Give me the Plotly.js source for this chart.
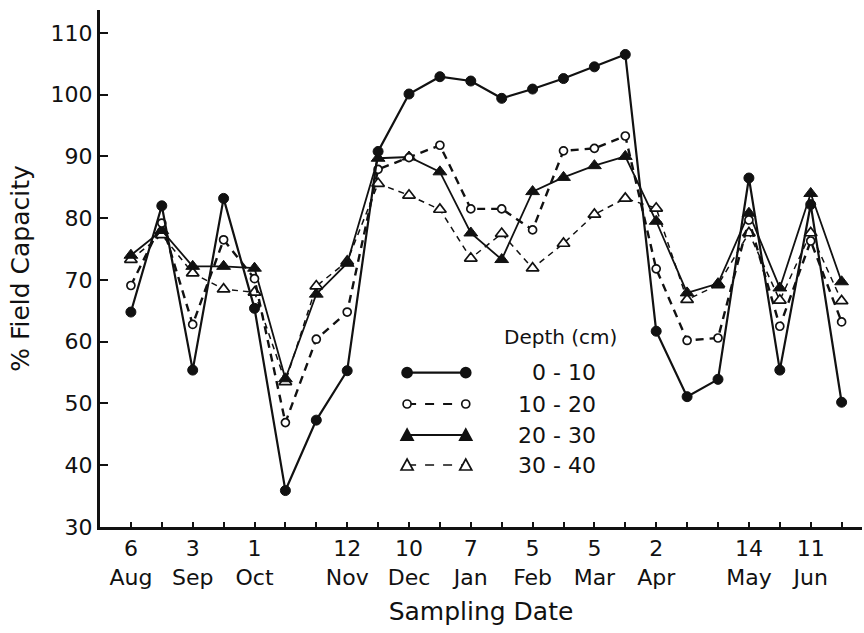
<!DOCTYPE html>
<html>
<head>
<meta charset="utf-8">
<script src="https://cdn.plot.ly/plotly-3.0.1.min.js"></script>
<style>
  html, body { margin: 0; padding: 0; background: #ffffff; }
  #chart { width: 864px; height: 633px; }
</style>
</head>
<body>
<div id="chart"></div>
<script>
// Fortnightly sampling index (6 Aug ... 25 Jun)
var sampleIndex = [0, 1, 2, 3, 4, 5, 6, 7, 8, 9, 10, 11, 12, 13, 14, 15, 16, 17, 18, 19, 20, 21, 22, 23];

// % Field Capacity for each depth layer
var depth0_10  = [64.8, 82.0, 55.4, 83.2, 65.4, 35.9, 47.3, 55.3, 90.8, 100.1, 102.9, 102.2, 99.4, 100.9, 102.6, 104.5, 106.5, 61.7, 51.1, 53.9, 86.5, 55.4, 82.2, 50.2];
var depth10_20 = [69.1, 79.2, 62.8, 76.5, 70.2, 46.9, 60.4, 64.8, 87.9, 89.8, 91.8, 81.5, 81.5, 78.1, 90.9, 91.3, 93.3, 71.8, 60.2, 60.6, 79.7, 62.5, 76.3, 63.2];
var depth20_30 = [74.0, 78.0, 72.2, 72.2, 71.9, 54.0, 67.7, 72.7, 89.7, 89.9, 87.5, 77.6, 73.3, 84.3, 86.6, 88.5, 90.0, 79.5, 67.9, 69.4, 80.8, 68.7, 84.0, 69.7];
var depth30_40 = [73.3, 77.3, 71.1, 68.5, 68.0, 53.5, 69.0, 73.0, 85.6, 83.7, 81.4, 73.5, 77.5, 71.9, 75.9, 80.6, 83.2, 81.6, 66.8, 69.2, 77.6, 66.7, 77.6, 66.6];

var seriesNames = ['0 - 10', '10 - 20', '20 - 30', '30 - 40'];

// Tick labels: day and month for the labelled sampling dates
var labelIdx   = [0, 2, 4, 7, 9, 11, 13, 15, 17, 20, 22];
var dayLabels  = ['6', '3', '1', '12', '10', '7', '5', '5', '2', '14', '11'];
var monthLabels = ['Aug', 'Sep', 'Oct', 'Nov', 'Dec', 'Jan', 'Feb', 'Mar', 'Apr', 'May', 'Jun'];

var yTicks = [30, 40, 50, 60, 70, 80, 90, 100, 110];

var tickText = sampleIndex.map(function (i) {
  var k = labelIdx.indexOf(i);
  return k >= 0 ? dayLabels[k] + '<br>' + monthLabels[k] : '';
});

var FONT = 'DejaVu Sans, Liberation Sans, sans-serif';

var traces = [
  {
    x: sampleIndex, y: depth30_40, name: seriesNames[3], mode: 'lines+markers',
    line: { color: '#111', width: 1.5, dash: '6px,5px' },
    marker: { symbol: 'triangle-up', size: 11, color: '#fff', line: { color: '#111', width: 1.7 } }
  },
  {
    x: sampleIndex, y: depth20_30, name: seriesNames[2], mode: 'lines+markers',
    line: { color: '#111', width: 1.8 },
    marker: { symbol: 'triangle-up', size: 12, color: '#111', line: { color: '#111', width: 1 } }
  },
  {
    x: sampleIndex, y: depth10_20, name: seriesNames[1], mode: 'lines+markers',
    line: { color: '#111', width: 2.4, dash: '8px,6px' },
    marker: { symbol: 'circle', size: 8, color: '#fff', line: { color: '#111', width: 1.7 } }
  },
  {
    x: sampleIndex, y: depth0_10, name: seriesNames[0], mode: 'lines+markers',
    line: { color: '#111', width: 2.2 },
    marker: { symbol: 'circle', size: 10, color: '#111', line: { color: '#111', width: 1 } }
  }
];

// ---- hand-drawn style legend (layout decoration) ----
var lgX0 = 0.403, lgX1 = 0.480;
var lgY = [0.2985, 0.2379, 0.1779, 0.1199];
var shapes = [];
var annotations = [];
var dashes = ['solid', 'dash', 'solid', 'dash'];
var widths = [2.2, 2.2, 2, 1.5];
for (var i = 0; i < 4; i++) {
  shapes.push({ type: 'line', xref: 'paper', yref: 'paper', x0: lgX0, x1: lgX1, y0: lgY[i], y1: lgY[i],
    line: { color: '#111', width: widths[i], dash: dashes[i] } });
  [lgX0, lgX1].forEach(function (ax) {
    if (i < 2) {
      var r = i === 0 ? 5 : 4;
      shapes.push({ type: 'circle', xref: 'paper', yref: 'paper', xsizemode: 'pixel', ysizemode: 'pixel',
        xanchor: ax, yanchor: lgY[i], x0: -r, x1: r, y0: -r, y1: r,
        fillcolor: i === 0 ? '#111' : '#fff', line: { color: '#111', width: 1.7 } });
    } else {
      shapes.push({ type: 'path', xref: 'paper', yref: 'paper', xsizemode: 'pixel', ysizemode: 'pixel',
        xanchor: ax, yanchor: lgY[i], path: 'M -6,-5 L 6,-5 L 0,6 Z',
        fillcolor: i === 2 ? '#111' : '#fff', line: { color: '#111', width: 1.7 } });
    }
  });
  annotations.push({ xref: 'paper', yref: 'paper', x: 0.654, y: lgY[i], xanchor: 'right', yanchor: 'middle',
    text: seriesNames[i], showarrow: false, font: { family: FONT, size: 22, color: '#111' } });
}
annotations.push({ xref: 'paper', yref: 'paper', x: 0.604, y: 0.368, xanchor: 'center', yanchor: 'middle',
  text: 'Depth (cm)', showarrow: false, font: { family: FONT, size: 20, color: '#111' } });

var layout = {
  width: 864, height: 633,
  margin: { l: 100, r: 2, t: 10, b: 106 },
  paper_bgcolor: '#fff', plot_bgcolor: '#fff',
  showlegend: false,
  font: { family: FONT, color: '#111' },
  xaxis: {
    range: [-1.0, 23.66], tickmode: 'array', tickvals: sampleIndex, ticktext: tickText,
    ticks: 'inside', ticklen: 5, tickwidth: 2, tickcolor: '#111',
    showline: true, linewidth: 3, linecolor: '#111', showgrid: false, zeroline: false,
    tickfont: { family: FONT, size: 22, color: '#111' },
    title: { text: 'Sampling Date', font: { family: FONT, size: 25, color: '#111' }, standoff: 14 }
  },
  yaxis: {
    range: [30, 113.7], tickmode: 'array', tickvals: yTicks,
    ticks: 'inside', ticklen: 8, tickwidth: 2, tickcolor: '#111',
    showline: true, linewidth: 3, linecolor: '#111', showgrid: false, zeroline: false,
    tickfont: { family: FONT, size: 22, color: '#111' },
    title: { text: '% Field Capacity', font: { family: FONT, size: 25, color: '#111' }, standoff: 14 }
  },
  shapes: shapes,
  annotations: annotations
};

Plotly.newPlot('chart', traces, layout, { displayModeBar: false, staticPlot: true });
</script>
</body>
</html>
